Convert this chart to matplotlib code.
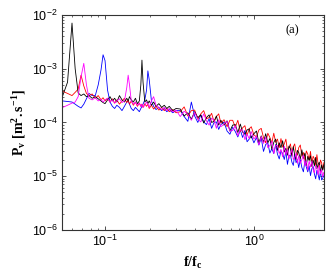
import numpy as np
import matplotlib
matplotlib.use('Agg')
import matplotlib.pyplot as plt

plt.rcParams['font.family'] = ['Liberation Sans', 'DejaVu Sans']
plt.rcParams['mathtext.fontset'] = 'custom'
plt.rcParams['mathtext.rm'] = 'Liberation Serif:bold'
plt.rcParams['mathtext.it'] = 'Liberation Serif:bold'
plt.rcParams['mathtext.bf'] = 'Liberation Serif:bold'

# normalised frequency f/fc
freq = [0.052, 0.056, 0.060, 0.063, 0.066, 0.069, 0.072, 0.075, 0.078, 0.082,
        0.086, 0.090, 0.094, 0.097, 0.100, 0.104, 0.108, 0.112, 0.116, 0.120,
        0.125, 0.130, 0.135, 0.140, 0.143, 0.146, 0.150, 0.155, 0.160, 0.165,
        0.170, 0.174, 0.177, 0.180, 0.185, 0.190, 0.194, 0.198, 0.205, 0.212,
        0.220, 0.230, 0.240, 0.250, 0.260, 0.270, 0.285, 0.300,
        0.32, 0.34, 0.36, 0.38, 0.40, 0.42, 0.44, 0.46, 0.48, 0.50,
        0.52, 0.54, 0.56, 0.58, 0.60, 0.63, 0.66, 0.69, 0.72, 0.75,
        0.78, 0.81, 0.84, 0.87, 0.90, 0.93, 0.96, 1.00,
        1.04, 1.08, 1.12, 1.16, 1.20, 1.24, 1.28, 1.32, 1.36, 1.40,
        1.44, 1.48, 1.52, 1.56, 1.60, 1.64, 1.68, 1.72, 1.76, 1.80,
        1.84, 1.88, 1.92, 1.96, 2.00, 2.05, 2.10, 2.15, 2.20, 2.25,
        2.30, 2.35, 2.40, 2.45, 2.50, 2.55, 2.60, 2.65, 2.70, 2.75,
        2.80, 2.85, 2.90, 2.95]

# log10 of Pv
log_black = [-3.50, -3.25, -2.15, -3.00, -3.45, -3.50, -3.47, -3.52, -3.50, -3.55,
             -3.52, -3.56, -3.60, -3.63, -3.65, -3.58, -3.52, -3.60, -3.55, -3.62,
             -3.50, -3.58, -3.62, -3.55, -3.60, -3.52, -3.58, -3.62, -3.55, -3.65,
             -3.60, -3.30, -2.84, -3.25, -3.62, -3.58, -3.65, -3.60, -3.68, -3.62,
             -3.70, -3.65, -3.72, -3.68, -3.74, -3.70, -3.78, -3.74,
             -3.75, -3.88, -3.82, -3.94, -3.80, -3.91, -3.86, -4.01, -3.91, -3.86,
             -4.00, -3.98, -3.88, -4.05, -3.96, -4.05, -3.97, -4.16, -4.05, -4.04,
             -4.19, -4.03, -4.18, -4.22, -4.14, -4.12, -4.29, -4.21,
             -4.16, -4.38, -4.25, -4.37, -4.21, -4.38, -4.30, -4.50, -4.37, -4.31,
             -4.52, -4.38, -4.47, -4.34, -4.55, -4.48, -4.61, -4.44, -4.49, -4.63,
             -4.45, -4.61, -4.69, -4.52, -4.56, -4.68, -4.51, -4.67, -4.57, -4.80,
             -4.63, -4.71, -4.62, -4.82, -4.70, -4.81, -4.65, -4.86, -4.78, -4.74,
             -4.94, -4.79, -4.89, -4.79]

log_red = [-3.42, -3.46, -3.50, -3.44, -3.38, -3.12, -3.32, -3.46, -3.50, -3.47,
           -3.55, -3.50, -3.58, -3.54, -3.60, -3.55, -3.62, -3.56, -3.64, -3.58,
           -3.66, -3.60, -3.55, -3.63, -3.58, -3.66, -3.60, -3.68, -3.62, -3.70,
           -3.64, -3.70, -3.66, -3.72, -3.65, -3.70, -3.66, -3.74, -3.68, -3.75,
           -3.70, -3.77, -3.72, -3.78, -3.74, -3.80, -3.76, -3.82,
           -3.80, -3.71, -3.88, -3.78, -3.77, -3.94, -3.84, -3.78, -3.93, -3.91,
           -3.83, -3.99, -3.89, -3.84, -4.01, -3.95, -4.08, -3.96, -3.96, -4.09,
           -3.96, -4.17, -4.10, -4.06, -4.24, -4.12, -4.08, -4.23,
           -4.27, -4.14, -4.11, -4.28, -4.38, -4.20, -4.28, -4.38, -4.20, -4.37,
           -4.31, -4.47, -4.30, -4.46, -4.40, -4.31, -4.52, -4.47, -4.40, -4.59,
           -4.45, -4.40, -4.56, -4.61, -4.47, -4.42, -4.63, -4.56, -4.71, -4.53,
           -4.59, -4.70, -4.54, -4.76, -4.63, -4.68, -4.79, -4.60, -4.78, -4.86,
           -4.70, -4.75, -4.88, -4.75]

log_blue = [-3.60, -3.61, -3.62, -3.66, -3.70, -3.73, -3.66, -3.56, -3.46, -3.50,
            -3.50, -3.30, -3.02, -2.74, -2.85, -3.40, -3.62, -3.70, -3.74, -3.68,
            -3.72, -3.78, -3.70, -3.62, -3.60, -3.66, -3.74, -3.78, -3.72, -3.76,
            -3.80, -3.74, -3.70, -3.66, -3.58, -3.40, -3.04, -3.20, -3.60, -3.70,
            -3.76, -3.72, -3.78, -3.74, -3.80, -3.76, -3.82, -3.78,
            -3.78, -3.89, -3.98, -3.62, -3.88, -4.00, -3.86, -3.99, -4.04, -3.93,
            -4.11, -4.00, -3.99, -4.13, -4.04, -3.99, -4.16, -4.22, -4.09, -4.17,
            -4.27, -4.14, -4.28, -4.15, -4.36, -4.31, -4.25, -4.38,
            -4.28, -4.42, -4.29, -4.54, -4.41, -4.38, -4.57, -4.49, -4.58, -4.41,
            -4.59, -4.68, -4.53, -4.58, -4.69, -4.54, -4.78, -4.62, -4.61, -4.74,
            -4.80, -4.60, -4.75, -4.69, -4.84, -4.69, -4.84, -4.92, -4.72, -4.83,
            -4.92, -4.81, -4.99, -4.86, -4.82, -4.96, -5.05, -4.89, -4.96, -5.07,
            -4.90, -5.07, -5.04, -4.99]

log_magenta = [-3.72, -3.68, -3.64, -3.62, -3.52, -3.15, -2.90, -3.30, -3.55, -3.58,
               -3.54, -3.60, -3.57, -3.62, -3.58, -3.55, -3.62, -3.58, -3.64, -3.60,
               -3.56, -3.63, -3.60, -3.35, -3.12, -3.30, -3.60, -3.66, -3.62, -3.68,
               -3.64, -3.70, -3.66, -3.72, -3.68, -3.62, -3.66, -3.72, -3.60, -3.52,
               -3.68, -3.72, -3.76, -3.72, -3.78, -3.74, -3.80, -3.77,
               -3.89, -3.79, -3.85, -3.96, -3.81, -3.94, -3.99, -3.84, -3.97, -4.05,
               -3.92, -3.96, -4.11, -3.95, -4.08, -4.03, -3.98, -4.16, -4.15, -4.06,
               -4.25, -4.14, -4.14, -4.32, -4.22, -4.30, -4.17, -4.31,
               -4.25, -4.42, -4.26, -4.39, -4.27, -4.47, -4.43, -4.35, -4.58, -4.43,
               -4.43, -4.58, -4.50, -4.64, -4.44, -4.60, -4.50, -4.68, -4.58, -4.50,
               -4.69, -4.66, -4.57, -4.76, -4.62, -4.76, -4.69, -4.61, -4.81, -4.71,
               -4.89, -4.72, -4.83, -4.72, -4.88, -4.94, -4.80, -4.85, -4.98, -4.80,
               -4.96, -4.88, -5.01, -4.93]

fig = plt.figure(figsize=(3.27, 2.73), dpi=100)
ax = fig.add_axes([0.190, 0.158, 0.801, 0.787])

f = np.array(freq)
lw = 0.6
ax.plot(f, 10 ** np.array(log_blue), color='#0000ff', lw=lw)
ax.plot(f, 10 ** np.array(log_red), color='#ff0000', lw=lw)
ax.plot(f, 10 ** np.array(log_black), color='#000000', lw=lw)
ax.plot(f, 10 ** np.array(log_magenta), color='#ff00ff', lw=lw)

ax.set_xscale('log')
ax.set_yscale('log')
ax.set_xlim(0.0515, 2.96)
ax.set_ylim(1e-6, 1e-2)

for s in ax.spines.values():
    s.set_color('#333333')
    s.set_linewidth(0.8)
ax.tick_params(which='both', direction='in', top=True, right=True,
               colors='#333333', labelcolor='black', labelsize=9)
ax.tick_params(which='major', length=3, width=0.6, pad=3)
ax.tick_params(which='minor', length=1.5, width=0.5)

ax.set_xlabel(r'$\mathrm{f/f_c}$', fontsize=10, labelpad=4)
ax.set_ylabel(r'$\mathrm{P_v\ [m^2.s^{-1}]}$', fontsize=10, labelpad=3)
ax.text(0.88, 0.93, '(a)', transform=ax.transAxes, fontsize=9,
        family='Liberation Serif', ha='center', va='center')

fig.savefig('out.png', dpi=100)
